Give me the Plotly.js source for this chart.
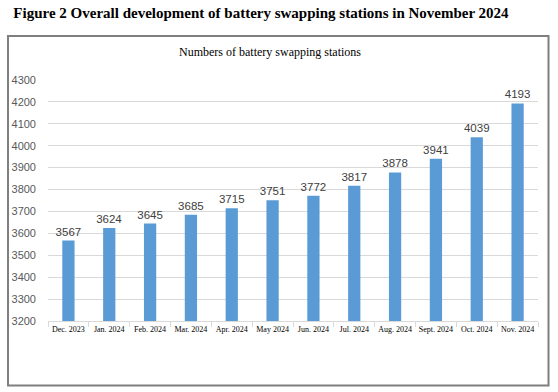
<!DOCTYPE html>
<html>
<head>
<meta charset="utf-8">
<script src="https://cdn.plot.ly/plotly-3.0.1.min.js"></script>
<style>
  html, body { margin: 0; padding: 0; background: #fff; }
  #chart { width: 558px; height: 392px; }
</style>
</head>
<body>
<div id="chart"></div>
<script>
const categories = ["Dec. 2023", "Jan. 2024", "Feb. 2024", "Mar. 2024", "Apr. 2024", "May 2024",
                    "Jun. 2024", "Jul. 2024", "Aug. 2024", "Sept. 2024", "Oct. 2024", "Nov. 2024"];
const stations = [3567, 3624, 3645, 3685, 3715, 3751, 3772, 3817, 3878, 3941, 4039, 4193];
const yTicks = [3200, 3300, 3400, 3500, 3600, 3700, 3800, 3900, 4000, 4100, 4200, 4300];

const W = 558, H = 392;
const L = 48, R = 538, T = 80, B = 321;
const px = x => (x - L) / (R - L);
const py = y => (B - y) / (B - T);

const trace = {
  type: "bar",
  x: categories,
  y: stations,
  marker: { color: "#5B9BD5" },
  text: stations.map(String),
  textposition: "outside",
  constraintext: "none",
  cliponaxis: false,
  textfont: { family: "Liberation Sans, Arial, sans-serif", size: 11.5, color: "#404040" },
  hoverinfo: "x+y"
};

const layout = {
  width: W, height: H,
  margin: { l: L, r: W - R, t: T, b: H - B, pad: 0 },
  paper_bgcolor: "#ffffff",
  plot_bgcolor: "#ffffff",
  showlegend: false,
  bargap: 0.7,
  title: {
    text: "<b>Figure 2 Overall development of battery swapping stations in November 2024</b>",
    font: { family: "Liberation Serif, Times New Roman, serif", size: 15, color: "#000" },
    xref: "container", yref: "container",
    x: 261 / W, xanchor: "center", y: 1 - 13 / H, yanchor: "middle"
  },
  xaxis: {
    type: "category",
    tickangle: 0,
    tickfont: { family: "Liberation Serif, Times New Roman, serif", size: 8, color: "#000" },
    showgrid: false,
    showline: true, linecolor: "#d9d9d9", linewidth: 1,
    ticks: "outside", ticklen: 5, tickcolor: "#d9d9d9",
    tickson: "boundaries",
    fixedrange: true
  },
  yaxis: {
    range: [3200, 4300],
    tickvals: yTicks,
    ticktext: yTicks.map(String),
    tickfont: { family: "Liberation Sans, Arial, sans-serif", size: 11, color: "#595959" },
    showgrid: true, gridcolor: "#d9d9d9", gridwidth: 1,
    zeroline: false, showline: false,
    ticks: "", ticklabelstandoff: 11,
    fixedrange: true
  },
  annotations: [{
    text: "Numbers of battery swapping stations",
    xref: "paper", yref: "paper",
    x: px(270), y: py(52), xanchor: "center", yanchor: "middle",
    showarrow: false,
    font: { family: "Liberation Serif, Times New Roman, serif", size: 12, color: "#000" }
  }],
  shapes: [{
    type: "rect", xref: "paper", yref: "paper",
    x0: px(8), x1: px(548.5), y0: py(385.5), y1: py(36),
    line: { color: "#7f7f7f", width: 2 },
    fillcolor: "rgba(0,0,0,0)",
    layer: "below"
  }]
};

Plotly.newPlot("chart", [trace], layout, { displayModeBar: false, staticPlot: true });
</script>
</body>
</html>
